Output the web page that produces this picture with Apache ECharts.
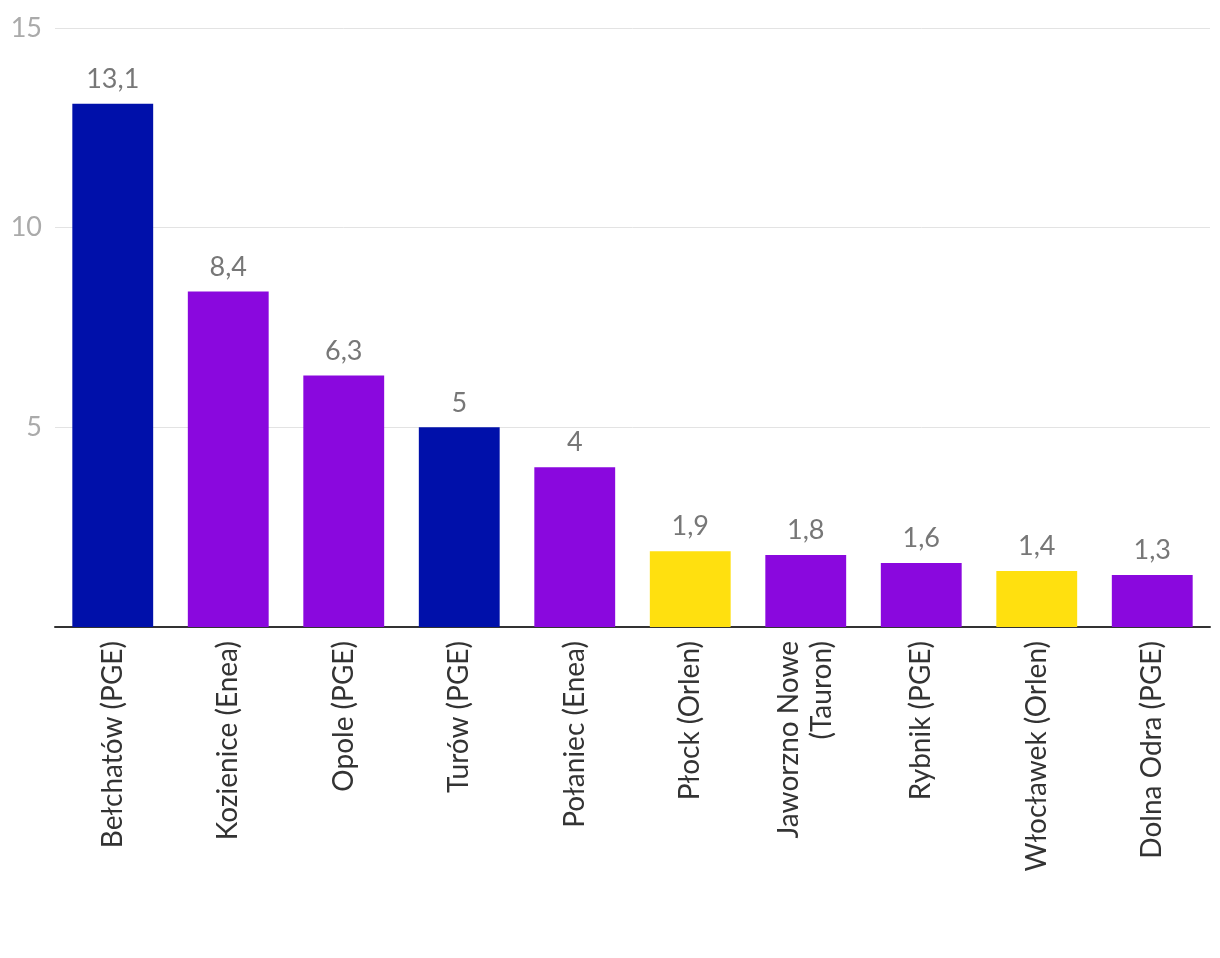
<!DOCTYPE html>
<html><head><meta charset="utf-8">
<script src="https://cdn.jsdelivr.net/npm/echarts@6/dist/echarts.min.js"></script>
<style>html,body{margin:0;padding:0;background:#fff}#c{width:1220px;height:958px}</style>
</head><body><div id="c"></div>
<script>
const categories = ['Bełchatów (PGE)','Kozienice (Enea)','Opole (PGE)','Turów (PGE)','Połaniec (Enea)','Płock (Orlen)','Jaworzno Nowe\n(Tauron)','Rybnik (PGE)','Włocławek (Orlen)','Dolna Odra (PGE)'];
const values = [13.1, 8.4, 6.3, 5, 4, 1.9, 1.8, 1.6, 1.4, 1.3];
const fuels = ['lignite','coal','coal','lignite','coal','gas','coal','coal','gas','coal'];
const yTicks = [0, 5, 10, 15];
const fuelColors = {lignite:'#0010AA', coal:'#8A08DE', gas:'#FFE00F'};

const chart = echarts.init(document.getElementById('c'));
chart.setOption({
  animation:false,
  textStyle:{fontFamily:'Lato'},
  grid:{left:55,right:10,top:28,bottom:331,containLabel:false},
  xAxis:{type:'category',data:categories,
    axisLine:{lineStyle:{color:'#333',width:2}},
    axisTick:{show:false},
    axisLabel:{rotate:90,fontSize:28,color:'#333',margin:14,fontFamily:'Lato',interval:0,lineHeight:33}},
  yAxis:{type:'value',min:yTicks[0],max:yTicks[yTicks.length-1],interval:5,
    axisLine:{show:false},axisTick:{show:false},
    splitLine:{lineStyle:{color:'#e3e3e3',width:1}},
    axisLabel:{fontSize:27,color:'#aaa',margin:13,fontFamily:'Lato',showMinLabel:false,
      formatter:v=>v===0?'':String(v)}},
  series:[{type:'bar',barWidth:'70%',
    data:values.map((v,i)=>({value:v,itemStyle:{color:fuelColors[fuels[i]]}})),
    label:{show:true,position:'top',distance:11,fontSize:27,color:'#777',fontFamily:'Lato',
      formatter:p=>String(p.value).replace('.',',')}}]
});
</script></body></html>
